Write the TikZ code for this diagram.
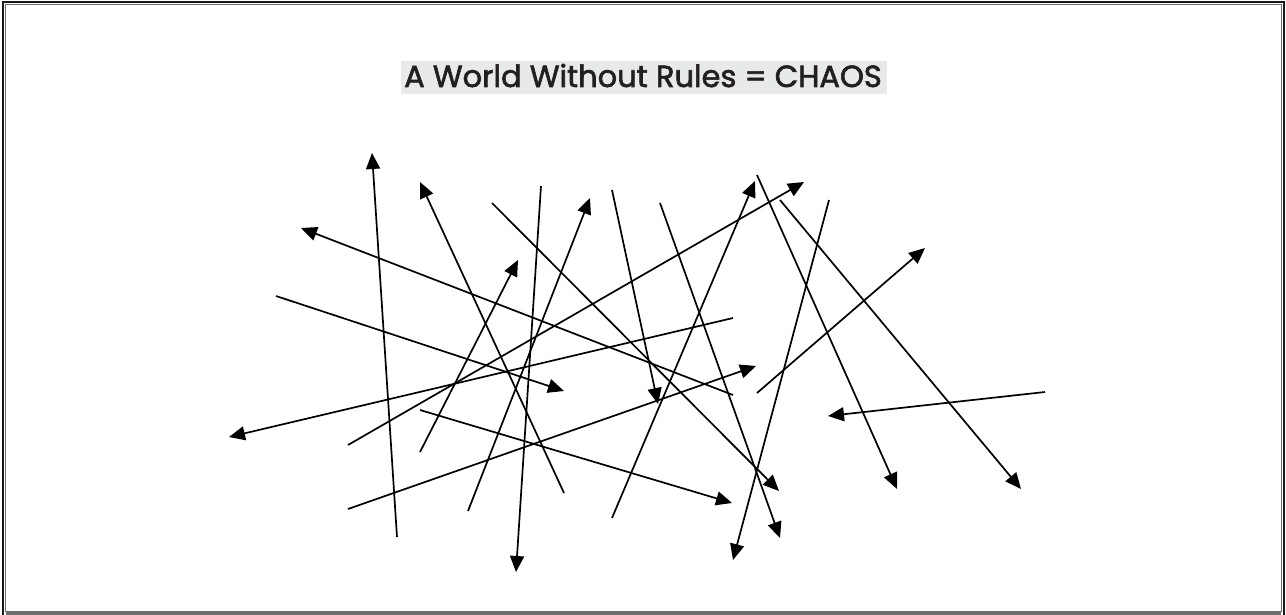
\documentclass[tikz,border=0pt]{standalone}
\usepackage{fontspec}
\newfontfamily\titlefont{Poppins}[FakeBold=2]
\usetikzlibrary{arrows.meta}
\definecolor{titlebg}{HTML}{E8E9EB}
\definecolor{titletext}{HTML}{231F20}
\definecolor{framegray}{HTML}{6E6E6E}
\tikzset{
  chaos/.style={line width=1.7pt, -{Triangle[length=16pt,width=14pt]}},
  titlebox/.style={fill=titlebg, inner sep=0pt, minimum width=486pt, minimum height=33pt},
  titlelabel/.style={inner sep=0pt, text=titletext, font=\titlefont\fontsize{30.5}{34}\selectfont}
}
\begin{document}
\begin{tikzpicture}[x=1pt,y=-1pt]
\useasboundingbox (0,0) rectangle (1286,615);
% frame
\draw[line width=2.4pt, black!90] (3.3,2) -- (1284.2,2);
\draw[line width=2.2pt, black!90] (3.3,1) -- (3.3,615);
\draw[line width=2.2pt, black!90] (1284.2,1) -- (1284.2,615);
\draw[line width=0.9pt, framegray] (5.6,4.4) rectangle (1281.4,611);
\draw[line width=3pt, framegray] (5.6,613.3) -- (1281.4,613.3);
% title
\node[titlebox] (tb) at (644,77.5) {};
\node[titlelabel, anchor=base] (title) at (643,87) {A World Without Rules = CHAOS};
% arrow endpoints (s = tail, e = head)
\coordinate (s1) at (397,537);  \coordinate (e1) at (372,153);
\coordinate (s2) at (564,493);  \coordinate (e2) at (420,182);
\coordinate (s3) at (733,395);  \coordinate (e3) at (301,228);
\coordinate (s4) at (492,203);  \coordinate (e4) at (779,491);
\coordinate (s5) at (348,445);  \coordinate (e5) at (804,182);
\coordinate (s6) at (733,318);  \coordinate (e6) at (229,437);
\coordinate (s7) at (276,296);  \coordinate (e7) at (564,391);
\coordinate (s8) at (420,452);  \coordinate (e8) at (518,260);
\coordinate (s9) at (541,186);  \coordinate (e9) at (516,572);
\coordinate (s10) at (468,511); \coordinate (e10) at (590,198);
\coordinate (s11) at (348,509); \coordinate (e11) at (756,366);
\coordinate (s12) at (420,410); \coordinate (e12) at (732,503);
\coordinate (s13) at (612,190); \coordinate (e13) at (658,404);
\coordinate (s14) at (612,518); \coordinate (e14) at (755,181);
\coordinate (s15) at (660,203); \coordinate (e15) at (780,538);
\coordinate (s16) at (829,200); \coordinate (e16) at (733,560);
\coordinate (s17) at (757,175); \coordinate (e17) at (897,489);
\coordinate (s18) at (780,200); \coordinate (e18) at (1021,489);
\coordinate (s19) at (757,393); \coordinate (e19) at (925,248);
\coordinate (s20) at (1045,392);\coordinate (e20) at (828,416);
\foreach \i in {1,...,20} {
  \draw[chaos] (s\i) -- (e\i);
}
\end{tikzpicture}
\end{document}
